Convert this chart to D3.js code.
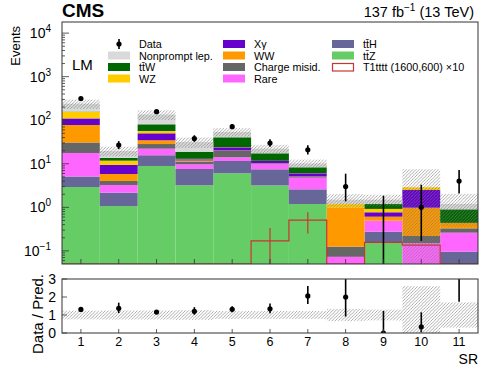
<!DOCTYPE html>
<html>
<head>
<meta charset="utf-8">
<script src="https://cdn.jsdelivr.net/npm/d3@7"></script>
<style>
    body { margin: 0; background: #fff; }
    svg text { font-family: "Liberation Sans", Arial, Helvetica, sans-serif; fill: #000; }
</style>
</head>
<body>
<svg id="drawing_region"></svg>
<script>
// signal regions
const bins = ["1", "2", "3", "4", "5", "6", "7", "8", "9", "10", "11"];

// backgrounds, bottom of the stack first
const ttZ       = [2.93, 1.07, 8.9, 3.2, 6.05, 3.18, 1.19, 0, 0.158, 0, 0];
const ttH       = [2.17, 1.10, 6.8, 4.4, 5.55, 4.29, 1.40, 0, 0.118, 0, 0.096];
const rare      = [12.6, 1.09, 6.5, 2.1, 2.5, 2.26, 2.21, 0.073, 0.217, 0.15, 0.166];
const chargeMis = [13.1, 0.77, 6.2, 1.6, 5.9, 0.27, 0.2, 0.052, 0, 0.07, 0.068];
const ww        = [46.8, 1.80, 6.2, 0.6, 0.2, 0.2, 0.1, 0.875, 0.117, 0.76, 0.11];
const xgamma    = [32.4, 3.57, 15.5, 0.8, 3.7, 1.4, 0.95, 0, 0.16, 1.52, 0];
const wz        = [45, 2.4, 6.5, 0.3, 0.3, 0.1, 0.05, 0.19, 0.15, 0.38, 0];
const ttW       = [3, 1.8, 24, 5.9, 16.4, 5.7, 2.2, 0, 0.27, 0, 0.46];
const nonprompt = [82, 6.1, 54.4, 12.6, 13.4, 4.9, 1.9, 0.31, 0.31, 0, 0.3];

// relative uncertainty of the total prediction
const predUnc = [0.24, 0.25, 0.25, 0.27, 0.22, 0.22, 0.22, 0.34, 0.30, 1.6, 0.7];

// observed events and their error bars
const dataObs  = [315, 27, 157, 38, 71, 30, 21, 3, 0, 1, 4];
const dataDown = [17.3, 5.2, 12.5, 6.1, 8.4, 5.5, 4.6, 1.63, 0, 0.83, 1.91];
const dataUp   = [18.3, 6.2, 13.5, 7.2, 9.5, 6.5, 5.6, 2.92, 1.84, 2.30, 3.16];

// T1tttt (1600,600) x10
const signal    = [0.01, 0.01, 0.01, 0.01, 0.01, 0.169, 0.51, 0.02, 0.157, 0.135, 0.02];
const signalErr = [0, 0, 0, 0, 0, 0.167, 0.26, 0, 0, 0, 0];

const yTicks = [0.1, 1, 10, 100, 1000, 10000];
const yExps  = ["\u22121", "0", "1", "2", "3", "4"];
const ratioTicks = [0, 1, 2, 3];

const keys = ["ttZ", "ttH", "rare", "chargeMis", "ww", "xgamma", "wz", "ttW", "nonprompt"];
const series = { ttZ, ttH, rare, chargeMis, ww, xgamma, wz, ttW, nonprompt };
const colors = {
    ttZ: "#66cc66", ttH: "#666699", rare: "#ff66ff", chargeMis: "#666666", ww: "#ff9900",
    xgamma: "#6600cc", wz: "#ffcc00", ttW: "#006600", nonprompt: "#d9d9d9"
};
const sigColor = "#cc3333";

const legendCols = [
    [{ label: "Data", type: "data" }, { label: "Nonprompt lep.", key: "nonprompt" },
     { label: "tt\u0304W", key: "ttW" }, { label: "WZ", key: "wz" }],
    [{ label: "X\u03b3", key: "xgamma" }, { label: "WW", key: "ww" },
     { label: "Charge misid.", key: "chargeMis" }, { label: "Rare", key: "rare" }],
    [{ label: "tt\u0304H", key: "ttH" }, { label: "tt\u0304Z", key: "ttZ" },
     { label: "T1tttt (1600,600) \u00d710", type: "signal" }]
];

const config = {
    width: 498, height: 374,
    left: 62, right: 478,
    main: { y0: 22, y1: 264 },
    ratio: { y0: 279, y1: 333 }
};

const svg = d3.select('#drawing_region')
    .attr('width', config.width)
    .attr('height', config.height);

const defs = svg.append('defs');
const hatch = defs.append('pattern')
    .attr('id', 'hatch')
    .attr('patternUnits', 'userSpaceOnUse')
    .attr('width', 3.2).attr('height', 3.2);
hatch.append('path')
    .attr('d', 'M-0.8,0.8 L0.8,-0.8 M0,3.2 L3.2,0 M2.4,4 L4,2.4')
    .attr('stroke', '#7a7a7a')
    .attr('stroke-width', 0.6);

defs.append('clipPath').attr('id', 'clipMain')
    .append('rect')
    .attr('x', config.left).attr('y', config.main.y0)
    .attr('width', config.right - config.left).attr('height', config.main.y1 - config.main.y0);
defs.append('clipPath').attr('id', 'clipRatio')
    .append('rect')
    .attr('x', config.left).attr('y', config.ratio.y0)
    .attr('width', config.right - config.left).attr('height', config.ratio.y1 - config.ratio.y0);

const x = d3.scaleLinear().domain([0.5, 11.5]).range([config.left, config.right]);
const y = d3.scaleLog().domain([0.05, 18000]).range([config.main.y1, config.main.y0]).clamp(true);
const yr = d3.scaleLinear().domain([0, 3]).range([config.ratio.y1, config.ratio.y0]).clamp(true);
const ylog = v => y(Math.max(v, 1e-4));

const rows = bins.map((b, i) => {
    let r = { bin: i + 1 };
    keys.forEach(k => r[k] = series[k][i]);
    return r;
});
const stacked = d3.stack().keys(keys)(rows);
const total = rows.map(r => d3.sum(keys, k => r[k]));

// ---------- main panel ----------
const mainG = svg.append('g').attr('clip-path', 'url(#clipMain)');

stacked.forEach(layer => {
    mainG.append('g').selectAll('rect')
        .data(layer)
        .enter()
        .append('rect')
        .attr('x', d => x(d.data.bin - 0.5))
        .attr('width', x(1.5) - x(0.5))
        .attr('y', d => ylog(d[1]))
        .attr('height', d => Math.max(0, ylog(d[0]) - ylog(d[1])))
        .attr('fill', colors[layer.key]);
});

// signal outline
const sigPts = [{ e: 0.5, v: 1e-4 }].concat(signal.map((v, i) => ({ e: i + 0.5, v: v })));
sigPts.push({ e: 11.5, v: signal[10] });
mainG.append('path')
    .datum(sigPts)
    .attr('d', d3.line().x(d => x(d.e)).y(d => ylog(d.v)).curve(d3.curveStepAfter))
    .attr('fill', 'none')
    .attr('stroke', sigColor)
    .attr('stroke-width', 1.2);
mainG.selectAll('.sigerr')
    .data(signal.map((v, i) => ({ i, v, e: signalErr[i] })).filter(d => d.e > 0))
    .enter()
    .append('line')
    .attr('x1', d => x(d.i + 1)).attr('x2', d => x(d.i + 1))
    .attr('y1', d => ylog(d.v - d.e)).attr('y2', d => ylog(d.v + d.e))
    .attr('stroke', sigColor)
    .attr('stroke-width', 1.2);

// uncertainty band
mainG.selectAll('.unc')
    .data(total)
    .enter()
    .append('rect')
    .attr('x', (d, i) => x(i + 0.5))
    .attr('width', x(1.5) - x(0.5))
    .attr('y', (d, i) => ylog(d * (1 + predUnc[i])))
    .attr('height', (d, i) => ylog(d * (1 - predUnc[i])) - ylog(d * (1 + predUnc[i])))
    .attr('fill', 'url(#hatch)');

// data
mainG.selectAll('.derr')
    .data(dataObs)
    .enter()
    .append('line')
    .attr('x1', (d, i) => x(i + 1)).attr('x2', (d, i) => x(i + 1))
    .attr('y1', (d, i) => ylog(d - dataDown[i])).attr('y2', (d, i) => ylog(d + dataUp[i]))
    .attr('stroke', '#000')
    .attr('stroke-width', 1.6);
mainG.selectAll('.dpt')
    .data(dataObs)
    .enter()
    .append('circle')
    .attr('cx', (d, i) => x(i + 1))
    .attr('cy', d => ylog(d))
    .attr('r', d => d > 0 ? 2.6 : 0)
    .attr('fill', '#000');

// axes of main panel
const axMain = svg.append('g');
axMain.append('rect')
    .attr('x', config.left).attr('y', config.main.y0)
    .attr('width', config.right - config.left).attr('height', config.main.y1 - config.main.y0)
    .attr('fill', 'none').attr('stroke', '#333').attr('stroke-width', 1);

const minor = [];
for (let e = -2; e <= 4; e++) {
    for (let m = 2; m <= 9; m++) {
        const v = m * Math.pow(10, e);
        if (v > 0.05 && v < 18000) minor.push(v);
    }
}
axMain.selectAll('.ymin')
    .data(minor).enter().append('line')
    .attr('x1', config.left).attr('x2', config.left + 3)
    .attr('y1', d => y(d)).attr('y2', d => y(d))
    .attr('stroke', '#333').attr('stroke-width', 0.8);
axMain.selectAll('.ymaj')
    .data(yTicks).enter().append('line')
    .attr('x1', config.left).attr('x2', config.left + 7)
    .attr('y1', d => y(d)).attr('y2', d => y(d))
    .attr('stroke', '#333').attr('stroke-width', 0.8);
const ylab = axMain.selectAll('.ylab')
    .data(yTicks).enter().append('text')
    .attr('x', config.left - 11)
    .attr('y', d => y(d) + 5)
    .attr('text-anchor', 'end')
    .style('font-size', '14px');
ylab.append('tspan').text('10');
ylab.append('tspan').attr('dy', -6).style('font-size', '10px').text((d, i) => yExps[i]);

axMain.selectAll('.xtk')
    .data(bins).enter().append('line')
    .attr('x1', (d, i) => x(i + 1)).attr('x2', (d, i) => x(i + 1))
    .attr('y1', config.main.y1).attr('y2', config.main.y1 - 5)
    .attr('stroke', '#333').attr('stroke-width', 0.8);

axMain.append('text')
    .attr('transform', `translate(20, ${config.main.y0 + 4}) rotate(-90)`)
    .attr('text-anchor', 'end')
    .style('font-size', '13px')
    .text('Events');

svg.append('text')
    .attr('x', config.left).attr('y', 17)
    .style('font-size', '19px').style('font-weight', 'bold')
    .text('CMS');
const lumi = svg.append('text')
    .attr('x', config.right - 4).attr('y', 17)
    .attr('text-anchor', 'end')
    .style('font-size', '14.5px');
lumi.append('tspan').text('137 fb');
lumi.append('tspan').attr('dy', -6).style('font-size', '10px').text('\u22121');
lumi.append('tspan').attr('dy', 6).text(' (13 TeV)');

svg.append('text')
    .attr('x', 72).attr('y', 70)
    .style('font-size', '15px')
    .text('LM');

// legend
const legendX = [108, 223, 332];
const rowY = [44, 55.5, 67, 78.5];
legendCols.forEach((col, c) => {
    col.forEach((ent, r) => {
        const g = svg.append('g').attr('transform', `translate(${legendX[c]}, ${rowY[r]})`);
        if (ent.type === 'data') {
            g.append('line').attr('x1', 11).attr('x2', 11).attr('y1', -5).attr('y2', 5)
                .attr('stroke', '#000').attr('stroke-width', 1.6);
            g.append('circle').attr('cx', 11).attr('cy', 0).attr('r', 2.6).attr('fill', '#000');
        } else if (ent.type === 'signal') {
            g.append('rect').attr('x', 0.5).attr('y', -3.5).attr('width', 21).attr('height', 7.5)
                .attr('fill', '#fff').attr('stroke', sigColor).attr('stroke-width', 1.2);
        } else {
            g.append('rect').attr('x', 0).attr('y', -4).attr('width', 22).attr('height', 8)
                .attr('fill', colors[ent.key]);
        }
        g.append('text').attr('x', 31).attr('y', 4)
            .style('font-size', '10.8px')
            .text(ent.label);
    });
});

// ---------- ratio panel ----------
const rat = svg.append('g').attr('clip-path', 'url(#clipRatio)');
rat.selectAll('.runc')
    .data(predUnc).enter().append('rect')
    .attr('x', (d, i) => x(i + 0.5))
    .attr('width', x(1.5) - x(0.5))
    .attr('y', d => yr(1 + d))
    .attr('height', d => yr(Math.max(0, 1 - d)) - yr(1 + d))
    .attr('fill', 'url(#hatch)');
rat.selectAll('.rerr')
    .data(dataObs).enter().append('line')
    .attr('x1', (d, i) => x(i + 1)).attr('x2', (d, i) => x(i + 1))
    .attr('y1', (d, i) => yr((d - dataDown[i]) / total[i]))
    .attr('y2', (d, i) => yr((d + dataUp[i]) / total[i]))
    .attr('stroke', '#000').attr('stroke-width', 1.6);
rat.selectAll('.rpt')
    .data(dataObs).enter().append('circle')
    .attr('cx', (d, i) => x(i + 1))
    .attr('cy', (d, i) => d / total[i] > 3 ? -10 : yr(d / total[i]))
    .attr('r', 2.6)
    .attr('fill', '#000');

const axR = svg.append('g');
axR.append('rect')
    .attr('x', config.left).attr('y', config.ratio.y0)
    .attr('width', config.right - config.left).attr('height', config.ratio.y1 - config.ratio.y0)
    .attr('fill', 'none').attr('stroke', '#333').attr('stroke-width', 1);
axR.selectAll('.rtk')
    .data(ratioTicks).enter().append('line')
    .attr('x1', config.left).attr('x2', config.left + 5)
    .attr('y1', d => yr(d)).attr('y2', d => yr(d))
    .attr('stroke', '#333').attr('stroke-width', 0.8);
axR.selectAll('.rlab')
    .data(ratioTicks).enter().append('text')
    .attr('x', config.left - 6)
    .attr('y', d => yr(d) + 5)
    .attr('text-anchor', 'end')
    .style('font-size', '14px')
    .text(d => d);
axR.selectAll('.xtk')
    .data(bins).enter().append('line')
    .attr('x1', (d, i) => x(i + 1)).attr('x2', (d, i) => x(i + 1))
    .attr('y1', config.ratio.y1).attr('y2', config.ratio.y1 - 4)
    .attr('stroke', '#333').attr('stroke-width', 0.8);
axR.selectAll('.xlab')
    .data(bins).enter().append('text')
    .attr('x', (d, i) => x(i + 1))
    .attr('y', 346)
    .attr('text-anchor', 'middle')
    .style('font-size', '12.5px')
    .text(d => d);
axR.append('text')
    .attr('x', config.right).attr('y', 364)
    .attr('text-anchor', 'end')
    .style('font-size', '14px')
    .text('SR');
axR.append('text')
    .attr('transform', `translate(43, ${config.ratio.y0 - 5}) rotate(-90)`)
    .attr('text-anchor', 'end')
    .style('font-size', '15px')
    .text('Data / Pred.');
</script>
</body>
</html>
